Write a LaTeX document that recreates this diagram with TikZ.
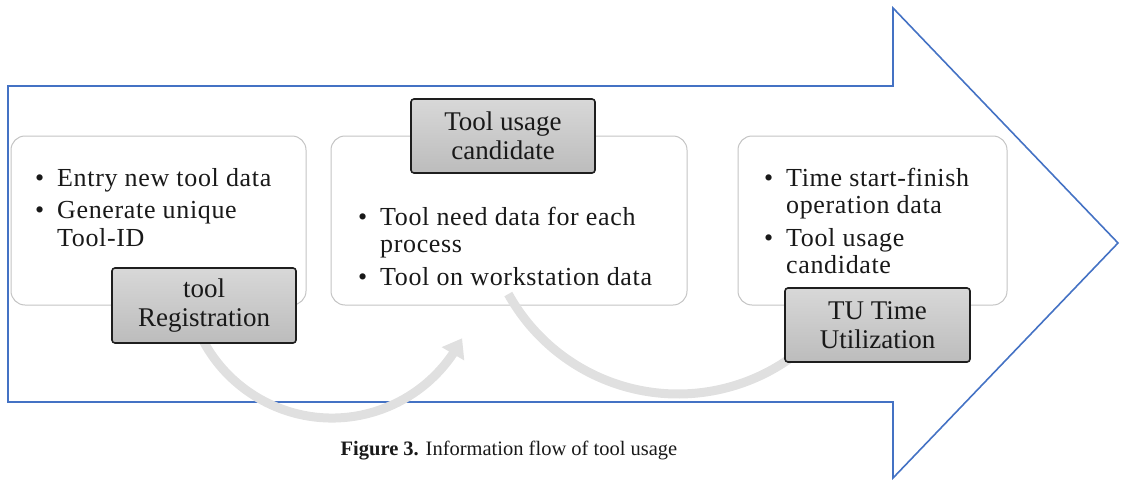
\documentclass[tikz,border=0pt]{standalone}
\usepackage{fontspec}
\setmainfont{Liberation Serif}
\newfontfamily\boxfont{Liberation Serif}[LetterSpace=2.5]
\usetikzlibrary{arrows.meta,bending}
\definecolor{arrowblue}{RGB}{68,114,196}
\definecolor{boxgray}{RGB}{196,196,196}
\definecolor{flowgray}{RGB}{224,224,224}
\definecolor{labeldark}{RGB}{30,30,30}
\definecolor{labeltop}{RGB}{216,216,216}
\definecolor{labelbot}{RGB}{188,188,188}
\definecolor{inkcol}{RGB}{25,25,25}
\newcommand{\bulitem}[1]{\par\hangindent=22pt\hangafter=1\noindent\makebox[22pt][l]{\textbullet}#1}
\newcommand{\boxtext}{\boxfont\fontsize{26}{27.5}\selectfont\raggedright\parskip=5pt\relax}
\tikzset{
  bigarrow/.style={draw=arrowblue, line width=1.6pt, line join=miter},
  infobox/.style={draw=boxgray, line width=1pt, rounded corners=14pt, fill=white, inner sep=0pt},
  tagbox/.style={draw=labeldark, line width=1.6pt, rounded corners=3pt, top color=labeltop, bottom color=labelbot, inner sep=0pt, align=center, font=\fontsize{27}{29}\selectfont, text=inkcol},
  textblk/.style={inner sep=0pt, anchor=base west, text=inkcol},
  flow/.style={draw=flowgray, line width=9pt, -{Triangle[width=25pt,length=18pt]}}
}
\begin{document}
\begin{tikzpicture}[x=1pt,y=-1pt]
\useasboundingbox (0,0) rectangle (1121,479);
% big arrow
\draw[bigarrow] (8,86) -- (893,86) -- (893,8) -- (1118,243) -- (893,478) -- (893,402) -- (8,402) -- cycle;
% boxes
\node[infobox, minimum width=295pt, minimum height=169pt] (b1) at (158.5,220.5) {};
\node[infobox, minimum width=356pt, minimum height=169pt] (b2) at (509,220.5) {};
\node[infobox, minimum width=269pt, minimum height=169pt] (b3) at (872.5,220.5) {};
% texts
\node[textblk] (t1) at (35,186) {\parbox[t]{265pt}{\boxtext\bulitem{Entry new tool data}\bulitem{Generate unique\newline Tool-ID}}};
\node[textblk] (t2) at (358,225) {\parbox[t]{320pt}{\boxtext\bulitem{Tool need data for each\newline process}\bulitem{Tool on workstation data}}};
\node[textblk] (t3) at (764,186) {\parbox[t]{240pt}{\boxtext\bulitem{Time start-finish\newline operation data}\bulitem{Tool usage\newline candidate}}};
% flow arcs
\coordinate (c1) at (332,272);
\coordinate (c2) at (678,200);
\draw[flow] ([shift={(160:146)}]c1) arc[start angle=160, end angle=27, radius=146];
\draw[flow] ([shift={(151:194)}]c2) arc[start angle=151, end angle=42, radius=194];
% labels
\node[tagbox, minimum width=184pt, minimum height=75pt] (l1) at (204,305.5) {tool\\Registration};
\node[tagbox, minimum width=184pt, minimum height=74pt] (l2) at (503,136) {Tool usage\\candidate};
\node[tagbox, minimum width=185pt, minimum height=74pt] (l3) at (877.5,325) {TU Time\\Utilization};
% caption
\node[anchor=base, inner sep=0pt, text=inkcol] (cap) at (509,455) {\fontsize{20.5}{24}\selectfont\textbf{Figure 3.} Information flow of tool usage};
\end{tikzpicture}
\end{document}
